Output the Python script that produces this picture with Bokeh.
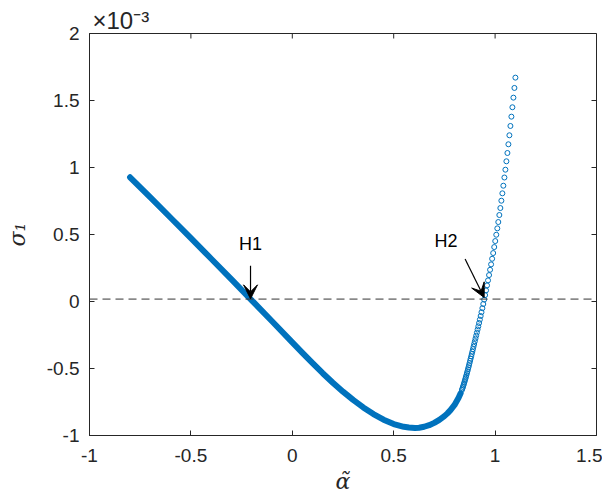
from bokeh.plotting import figure
from bokeh.models import Label, Arrow, VeeHead, Span, FixedTicker
from bokeh.embed import file_html
from bokeh.resources import INLINE

# dense part of the branch (markers overlap into a solid band), sigma in units of 1e-3
alpha_dense = [-0.800, -0.700, -0.600, -0.500, -0.400, -0.300, -0.200, -0.100, 0.000,
               0.050, 0.100, 0.150, 0.200, 0.250, 0.300, 0.350, 0.400, 0.450, 0.500,
               0.550, 0.575, 0.605, 0.625, 0.650, 0.675, 0.700, 0.725, 0.750, 0.765,
               0.780, 0.800, 0.820, 0.830]
sigma_dense = [0.927, 0.7765, 0.625, 0.4725, 0.319, 0.1645, 0.009, -0.1475, -0.305,
               -0.3835, -0.4605, -0.535, -0.606, -0.6728, -0.7345, -0.7905, -0.840, -0.8818, -0.9143,
               -0.9353, -0.9409, -0.9433, -0.9416, -0.9347, -0.9227, -0.9057, -0.8835, -0.8554, -0.835,
               -0.811, -0.772, -0.718, -0.685]

# sparse part of the branch (individual open circles), sigma in units of 1e-3
alpha_pts = [1.1001, 1.0952, 1.0903, 1.0853, 1.0804, 1.0755, 1.0705, 1.0656, 1.0607, 1.0557,
             1.0508, 1.0459, 1.0407, 1.0358, 1.0309, 1.0259, 1.0209, 1.0157, 1.0109, 1.0058,
             1.0007, 0.9957, 0.9905, 0.9854, 0.9803, 0.9752, 0.9702, 0.9651, 0.9602, 0.9553,
             0.9507, 0.9462, 0.9417, 0.9372, 0.9329, 0.9288, 0.9248, 0.9210, 0.9173, 0.9137,
             0.9102, 0.9067, 0.9033, 0.9000, 0.8968, 0.8937, 0.8908, 0.8878, 0.8849, 0.8821,
             0.8794, 0.8767, 0.8740, 0.8714, 0.8688, 0.8662, 0.8636, 0.8611, 0.8586, 0.8561,
             0.8537, 0.8512, 0.8488, 0.8463, 0.8438, 0.8413, 0.8388, 0.8363]
sigma_pts = [1.6707, 1.5937, 1.5213, 1.4496, 1.3794, 1.3099, 1.2405, 1.1733, 1.1083, 1.0463,
             0.9836, 0.9253, 0.8641, 0.8073, 0.7521, 0.6975, 0.6453, 0.5930, 0.5459, 0.4981,
             0.4511, 0.4063, 0.3615, 0.3189, 0.2771, 0.2367, 0.1972, 0.1576, 0.1202, 0.0829,
             0.0478, 0.0142, -0.0187, -0.0500, -0.0799, -0.1083, -0.1352, -0.1606, -0.1852, -0.2091,
             -0.2323, -0.2547, -0.2763, -0.2972, -0.3174, -0.3368, -0.3555, -0.3742, -0.3921, -0.4093,
             -0.4264, -0.4429, -0.4593, -0.4750, -0.4907, -0.5056, -0.5205, -0.5347, -0.5489, -0.5624,
             -0.5758, -0.5885, -0.6012, -0.6139, -0.6258, -0.6378, -0.6490, -0.6602]

sigma_ref = 0.018

x_ticks = [-1, -0.5, 0, 0.5, 1, 1.5]
x_tick_labels = ["-1", "-0.5", "0", "0.5", "1", "1.5"]
y_ticks = [-1, -0.5, 0, 0.5, 1, 1.5, 2]
y_tick_labels = ["-1", "-0.5", "0", "0.5", "1", "1.5", "2"]

H1_label = "H1"
H2_label = "H2"
exponent_label = "×10⁻³"

BLUE = "#0072BD"
AX = "#262626"
SANS = "Liberation Sans"
SERIF = "DejaVu Serif"

X0, X1 = -1, 1.5
Y0, Y1 = -1, 2
FW, FH = 507, 402
TICK_PX = 5

p = figure(frame_width=FW, frame_height=FH, x_range=(X0, X1), y_range=(Y0, Y1),
           output_backend="svg", toolbar_location=None,
           min_border_left=89, min_border_right=6, min_border_top=33, min_border_bottom=50,
           x_axis_label="α̃", y_axis_label="σ₁")
p.grid.visible = False
p.outline_line_color = AX
p.outline_line_width = 1
p.background_fill_color = "white"
p.border_fill_color = "white"

p.title.text = exponent_label
p.title.align = "left"
p.title.offset = 3
p.title.standoff = 0
p.title.text_font = SANS
p.title.text_font_size = "24px"
p.title.text_font_style = "normal"
p.title.text_color = AX

for ax, ticks, labels in ((p.xaxis[0], x_ticks, x_tick_labels), (p.yaxis[0], y_ticks, y_tick_labels)):
    ax.ticker = FixedTicker(ticks=ticks)
    ax.major_label_overrides = {t: l for t, l in zip(ticks, labels)}
    ax.major_tick_in = TICK_PX
    ax.major_tick_out = 0
    ax.minor_tick_line_color = None
    ax.axis_line_color = AX
    ax.major_tick_line_color = AX
    ax.major_label_text_color = AX
    ax.major_label_text_font = SANS
    ax.major_label_text_font_size = "19px"
    ax.axis_label_text_font = SERIF
    ax.axis_label_text_font_style = "italic"
    ax.axis_label_text_font_size = "22px"
    ax.axis_label_text_color = AX
p.xaxis[0].major_label_standoff = 13
p.yaxis[0].major_label_standoff = 10
p.xaxis[0].axis_label_standoff = 4
p.yaxis[0].axis_label_standoff = 14

# mirrored inward ticks on the top and right edges of the box
dy_tick = TICK_PX * (Y1 - Y0) / FH
dx_tick = TICK_PX * (X1 - X0) / FW
p.segment(x0=x_ticks, y0=[Y1] * len(x_ticks), x1=x_ticks, y1=[Y1 - dy_tick] * len(x_ticks),
          line_color=AX, line_width=1)
p.segment(x0=[X1] * len(y_ticks), y0=y_ticks, x1=[X1 - dx_tick] * len(y_ticks), y1=y_ticks,
          line_color=AX, line_width=1)

p.line(alpha_dense, sigma_dense, line_width=6, line_color=BLUE, line_cap="round", line_join="round")
p.scatter(alpha_pts, sigma_pts, marker="circle", size=5, fill_color=None,
          line_color=BLUE, line_width=1)

p.add_layout(Span(location=sigma_ref, dimension="width", line_color="#333333",
                  line_width=1, line_dash="8 5"))

head1 = VeeHead(size=14, fill_color="black", line_color="black")
p.add_layout(Arrow(end=head1, x_start=-0.206, y_start=0.267, x_end=-0.206, y_end=0.020,
                   line_color="black", line_width=1.2))
head2 = VeeHead(size=14, fill_color="black", line_color="black")
p.add_layout(Arrow(end=head2, x_start=0.852, y_start=0.317, x_end=0.946, y_end=0.030,
                   line_color="black", line_width=1.2))

p.add_layout(Label(x=-0.206, y=0.429, text=H1_label, text_font=SANS, text_font_size="18px",
                   text_align="center", text_baseline="middle", text_color="black"))
p.add_layout(Label(x=0.758, y=0.453, text=H2_label, text_font=SANS, text_font_size="18px",
                   text_align="center", text_baseline="middle", text_color="black"))

open("out.html", "w").write(file_html(p, INLINE))
